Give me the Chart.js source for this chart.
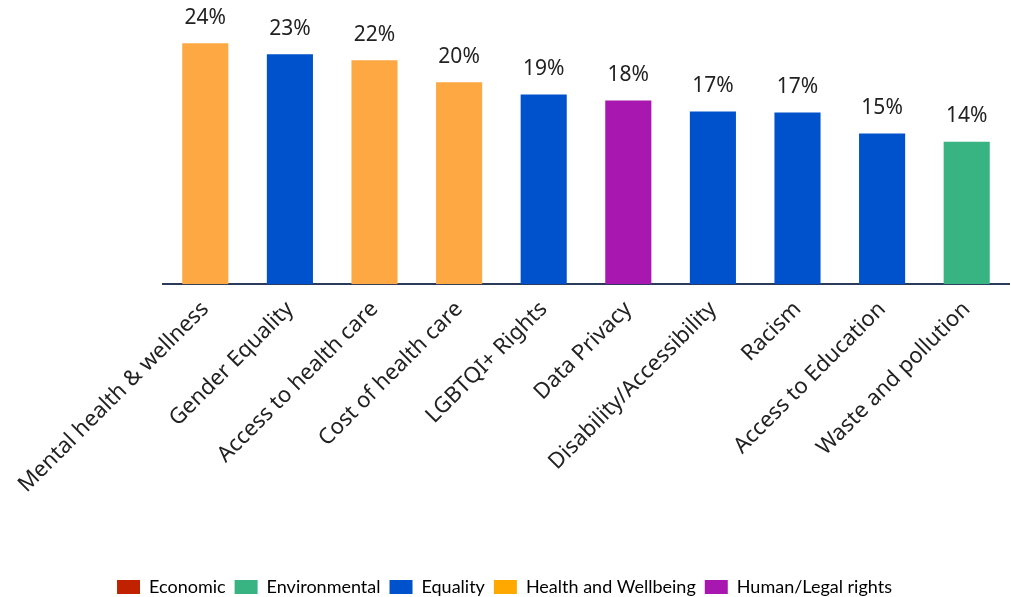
<!DOCTYPE html>
<html>
<head>
<meta charset="utf-8">
<script src="https://cdn.jsdelivr.net/npm/chart.js@4/dist/chart.umd.min.js"></script>
<style>
  html, body { margin: 0; padding: 0; background: #fff; }
  #wrap { width: 1011px; height: 597px; }
</style>
</head>
<body>
<div id="wrap"><canvas id="issuesChart"></canvas></div>
<script>
const categories = [
  "Mental health & wellness", "Gender Equality", "Access to health care",
  "Cost of health care", "LGBTQI+ Rights", "Data Privacy",
  "Disability/Accessibility", "Racism", "Access to Education", "Waste and pollution"
];
const values = [24.0, 22.9, 22.3, 20.1, 18.9, 18.3, 17.2, 17.1, 15.0, 14.2];
const barGroups = [
  "Health and Wellbeing", "Equality", "Health and Wellbeing", "Health and Wellbeing",
  "Equality", "Human/Legal rights", "Equality", "Equality", "Equality", "Environmental"
];
const groups = ["Economic", "Environmental", "Equality", "Health and Wellbeing", "Human/Legal rights"];

const groupColors = {
  "Economic": "#C02200",
  "Environmental": "#38B482",
  "Equality": "#0052CC",
  "Health and Wellbeing": "#FFA800",
  "Human/Legal rights": "#A817B0"
};
// bars use a softer orange than the legend swatch
const barColors = Object.assign({}, groupColors, { "Health and Wellbeing": "#FDA843" });

const fontFamily = "'Noto Sans', Lato, sans-serif";

// Draw the % labels above each bar
const valueLabels = {
  id: "valueLabels",
  afterDatasetsDraw(chart) {
    const ctx = chart.ctx;
    const meta = chart.getDatasetMeta(0);
    ctx.save();
    ctx.font = "21px " + fontFamily;
    ctx.fillStyle = "#222";
    ctx.textAlign = "center";
    ctx.textBaseline = "bottom";
    meta.data.forEach((bar, i) => {
      ctx.fillText(Math.round(values[i]) + "%", bar.x, bar.y - 15);
    });
    ctx.restore();
  }
};

const ctx = document.getElementById("issuesChart").getContext("2d");

new Chart(ctx, {
  type: "bar",
  data: {
    labels: categories,
    datasets: [
      {
        data: values,
        backgroundColor: barGroups.map((g) => barColors[g]),
        categoryPercentage: 1,
        barPercentage: 0.545,
      },
    ],
  },
  options: {
    responsive: true,
    maintainAspectRatio: false,
    animation: false,
    layout: {
      padding: { left: 0, right: 2, top: 3, bottom: -9 },
    },
    scales: {
      y: {
        min: 0,
        max: 28,
        grid: { display: false },
        border: { display: false },
        ticks: { display: false },
        // empty left margin, like the original
        afterFit: (scale) => {
          scale.width = 163;
        },
      },
      x: {
        grid: { display: false },
        border: { display: true, color: "#2B3A5A", width: 2 },
        ticks: {
          color: "#222",
          font: { family: fontFamily, size: 22 },
          minRotation: 45,
          maxRotation: 45,
          padding: 4,
          autoSkip: false,
        },
        // leave the empty band between the labels and the legend
        afterFit: (scale) => {
          scale.height += 67;
        },
      },
    },
    plugins: {
      tooltip: { enabled: false },
      legend: {
        position: "bottom",
        labels: {
          color: "#222",
          font: { family: "Lato, sans-serif", size: 18 },
          boxWidth: 23,
          boxHeight: 14,
          padding: 9,
          generateLabels: () =>
            groups.map((g) => ({
              text: g,
              fillStyle: groupColors[g],
              strokeStyle: groupColors[g],
              lineWidth: 0,
              hidden: false,
            })),
        },
      },
    },
  },
  plugins: [valueLabels],
});
</script>
</body>
</html>
